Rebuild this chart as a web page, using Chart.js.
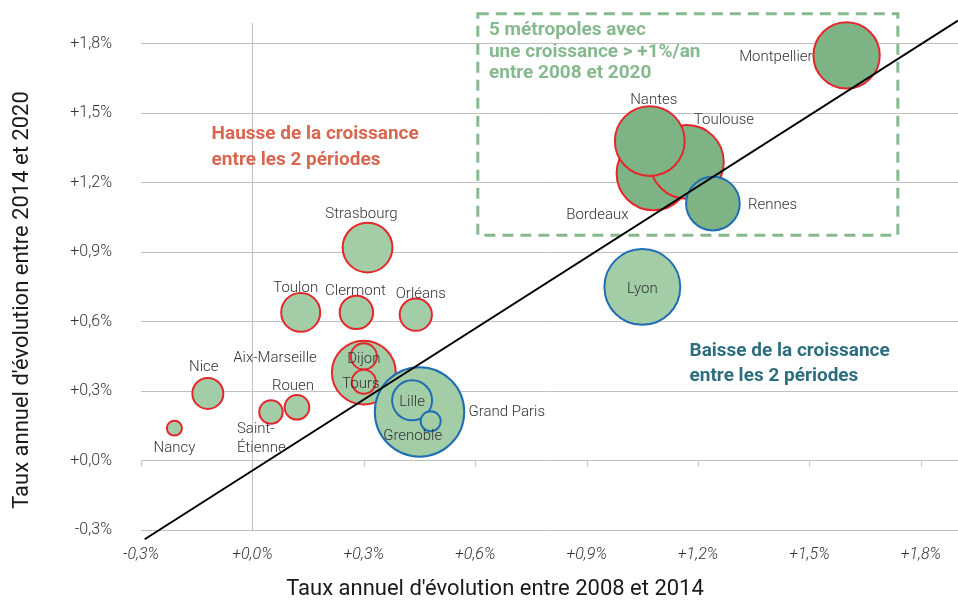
<!DOCTYPE html>
<html lang="fr">
<head>
<meta charset="UTF-8">
<title>Croissance des métropoles</title>
<style>
  html, body { margin: 0; padding: 0; background: #fff; }
</style>
</head>
<body>
<canvas id="graphique" width="958" height="600"></canvas>
<script src="https://cdn.jsdelivr.net/npm/chart.js@4.4.1/dist/chart.umd.min.js"></script>
<script>
// taux annuels d'évolution en %, dans l'ordre de tracé (les grosses bulles d'abord)
const villes = ["Aix-Marseille", "Dijon", "Tours", "Grand Paris", "Lille", "Grenoble",
    "Strasbourg", "Toulon", "Clermont", "Orléans", "Nice", "Nancy", "Saint-\nÉtienne", "Rouen",
    "Lyon", "Bordeaux", "Toulouse", "Nantes", "Rennes", "Montpellier"];
const evol0814 = [0.30, 0.30, 0.30, 0.45, 0.43, 0.48,
    0.31, 0.13, 0.28, 0.44, -0.12, -0.21, 0.05, 0.12,
    1.05, 1.08, 1.17, 1.07, 1.24, 1.60];
const evol1420 = [0.38, 0.45, 0.34, 0.21, 0.26, 0.17,
    0.92, 0.64, 0.64, 0.63, 0.29, 0.14, 0.21, 0.23,
    0.75, 1.24, 1.29, 1.38, 1.11, 1.75];
// poids relatif de chaque métropole (surface de la bulle)
const poids = [51, 8.5, 7.2, 100, 20, 5,
    31, 19, 14, 13, 12, 2.8, 6.9, 7.6,
    72, 68, 68, 61, 36, 55];
const graduations = [-0.3, 0, 0.3, 0.6, 0.9, 1.2, 1.5, 1.8];
// droite de référence (même croissance sur les 2 périodes)
const diagonale = [[-0.29, -0.34], [1.9, 1.9]];

// placement des étiquettes : décalage en px depuis le centre de la bulle + alignement
const etiquettes = {
    "Aix-Marseille": [-47, -16, "right"], "Dijon": [0, 1, "center"], "Tours": [-3, 0, "center"],
    "Grand Paris": [49, -2, "left"], "Lille": [0, 0, "center"], "Grenoble": [-18, 13, "center"],
    "Strasbourg": [-6, -35, "center"], "Toulon": [-5, -26, "center"], "Clermont": [-1, -23, "center"],
    "Orléans": [5, -22, "center"], "Nice": [-4, -28, "center"], "Nancy": [0, 18, "center"],
    "Saint-\nÉtienne": [-34, 15, "left"], "Rouen": [-4, -23, "center"], "Lyon": [0, 0, "center"],
    "Bordeaux": [-25, 40, "right"], "Toulouse": [37, -44, "center"], "Nantes": [4, -43, "center"],
    "Rennes": [35, 0, "left"], "Montpellier": [-34, 0, "right"]
};

const police = "Roboto, 'Noto Sans', sans-serif";
const vertClair = "#a3cda7";
const vertFonce = "#7eb386";
const rouge = "#e5262a";
const bleu = "#1f6eb4";
const grille = "#c0c0c0";

function rayon(p) {
    return 44.7 * Math.sqrt(p / 100);
}

function pourcent(v) {
    return (v >= 0 ? "+" : "") + v.toFixed(1).replace(".", ",") + "%";
}

const bulles = villes.map((v, i) => ({ x: evol0814[i], y: evol1420[i], r: rayon(poids[i]) }));
// hausse de la croissance => contour rouge ; > +1%/an sur 2008-2020 => vert foncé
const contours = villes.map((v, i) => evol1420[i] > evol0814[i] ? rouge : bleu);
const remplissages = villes.map((v, i) => (evol0814[i] + evol1420[i]) / 2 > 1 ? vertFonce : vertClair);

function texteLignes(ctx, lignes, x, y, hauteur) {
    lignes.forEach((l, k) => ctx.fillText(l, x, y + k * hauteur));
}

const habillage = {
    id: "habillage",
    beforeDatasetsDraw(chart) {
        const ctx = chart.ctx;
        const sx = chart.scales.x, sy = chart.scales.y;
        ctx.save();

        // petites graduations sur l'axe 0
        ctx.strokeStyle = grille;
        ctx.lineWidth = 1;
        const y0 = Math.round(sy.getPixelForValue(0)) + 0.5;
        graduations.forEach(v => {
            const x = Math.round(sx.getPixelForValue(v)) + 0.5;
            ctx.beginPath();
            ctx.moveTo(x, y0);
            ctx.lineTo(x, y0 + 5);
            ctx.stroke();
        });

        // cadre des 5 métropoles
        ctx.strokeStyle = "#86ba8e";
        ctx.lineWidth = 3;
        ctx.setLineDash([11, 7]);
        const x1 = sx.getPixelForValue(0.607), x2 = sx.getPixelForValue(1.738);
        const y1 = sy.getPixelForValue(1.93), y2 = sy.getPixelForValue(0.973);
        ctx.strokeRect(x1, y1, x2 - x1, y2 - y1);
        ctx.setLineDash([]);

        ctx.textBaseline = "middle";
        ctx.textAlign = "left";
        ctx.font = "bold 19px " + police;
        ctx.fillStyle = "#86ba8e";
        texteLignes(ctx, ["5 métropoles avec", "une croissance > +1%/an", "entre 2008 et 2020"],
            sx.getPixelForValue(0.637), sy.getPixelForValue(1.863) + 1, 21.5);

        ctx.fillStyle = "#d9664e";
        texteLignes(ctx, ["Hausse de la croissance", "entre les 2 périodes"],
            sx.getPixelForValue(-0.11), sy.getPixelForValue(1.418) + 2, 26);

        ctx.fillStyle = "#2d6e7e";
        texteLignes(ctx, ["Baisse de la croissance", "entre les 2 périodes"],
            sx.getPixelForValue(1.177), sy.getPixelForValue(0.48) + 2, 25);
        ctx.restore();
    },
    afterDatasetsDraw(chart) {
        const ctx = chart.ctx;
        const meta = chart.getDatasetMeta(1);
        ctx.save();
        ctx.font = "300 15px " + police;
        ctx.fillStyle = "#333";
        ctx.textBaseline = "middle";
        meta.data.forEach((el, i) => {
            const [dx, dy, align] = etiquettes[villes[i]];
            ctx.textAlign = align;
            texteLignes(ctx, villes[i].split("\n"), el.x + dx, el.y + dy + 2, 19);
        });
        ctx.restore();
    },
    afterDraw(chart) {
        const ctx = chart.ctx;
        ctx.save();
        ctx.fillStyle = "#1a1a1a";
        ctx.font = "22px " + police;
        ctx.textAlign = "center";
        ctx.textBaseline = "middle";
        ctx.fillText("Taux annuel d'évolution entre 2008 et 2014", 495, 589);
        ctx.translate(22, 300);
        ctx.rotate(-Math.PI / 2);
        ctx.fillText("Taux annuel d'évolution entre 2014 et 2020", 0, 0);
        ctx.restore();
    }
};

new Chart(document.getElementById("graphique"), {
    type: "bubble",
    data: {
        datasets: [
            {
                type: "line",
                data: diagonale.map(([x, y]) => ({ x, y })),
                borderColor: "#000",
                borderWidth: 2,
                pointRadius: 0,
                clip: false,
            },
            {
                data: bulles,
                backgroundColor: remplissages,
                borderColor: contours,
                borderWidth: 2,
                clip: false,
            },
        ],
    },
    options: {
        responsive: false,
        animation: false,
        events: [],
        layout: { autoPadding: false, padding: { top: 23, right: 0, left: 0, bottom: 0 } },
        plugins: {
            legend: { display: false },
            tooltip: { enabled: false },
        },
        scales: {
            x: {
                type: "linear",
                min: -0.3,
                max: 1.9,
                afterBuildTicks: s => { s.ticks = graduations.map(v => ({ value: v })); },
                afterFit: s => { s.height = 70; s.paddingLeft = 0; s.paddingRight = 0; },
                border: { display: false },
                grid: {
                    drawTicks: false,
                    color: c => (c.tick && c.tick.value === 0 ? grille : "rgba(0,0,0,0)"),
                },
                ticks: {
                    padding: 15,
                    color: "#333",
                    font: { family: police, size: 16, style: "italic", weight: "300" },
                    maxRotation: 0,
                    autoSkip: false,
                    callback: v => pourcent(v),
                },
            },
            y: {
                type: "linear",
                min: -0.3,
                max: 1.89,
                afterBuildTicks: s => { s.ticks = graduations.map(v => ({ value: v })); },
                afterFit: s => { s.width = 141; s.paddingTop = 0; s.paddingBottom = 0; },
                border: { display: false },
                grid: { drawTicks: false, color: grille },
                ticks: {
                    padding: 29,
                    color: "#333",
                    font: { family: police, size: 16, weight: "300" },
                    autoSkip: false,
                    callback: v => pourcent(v),
                },
            },
        },
    },
    plugins: [habillage],
});
</script>
</body>
</html>
